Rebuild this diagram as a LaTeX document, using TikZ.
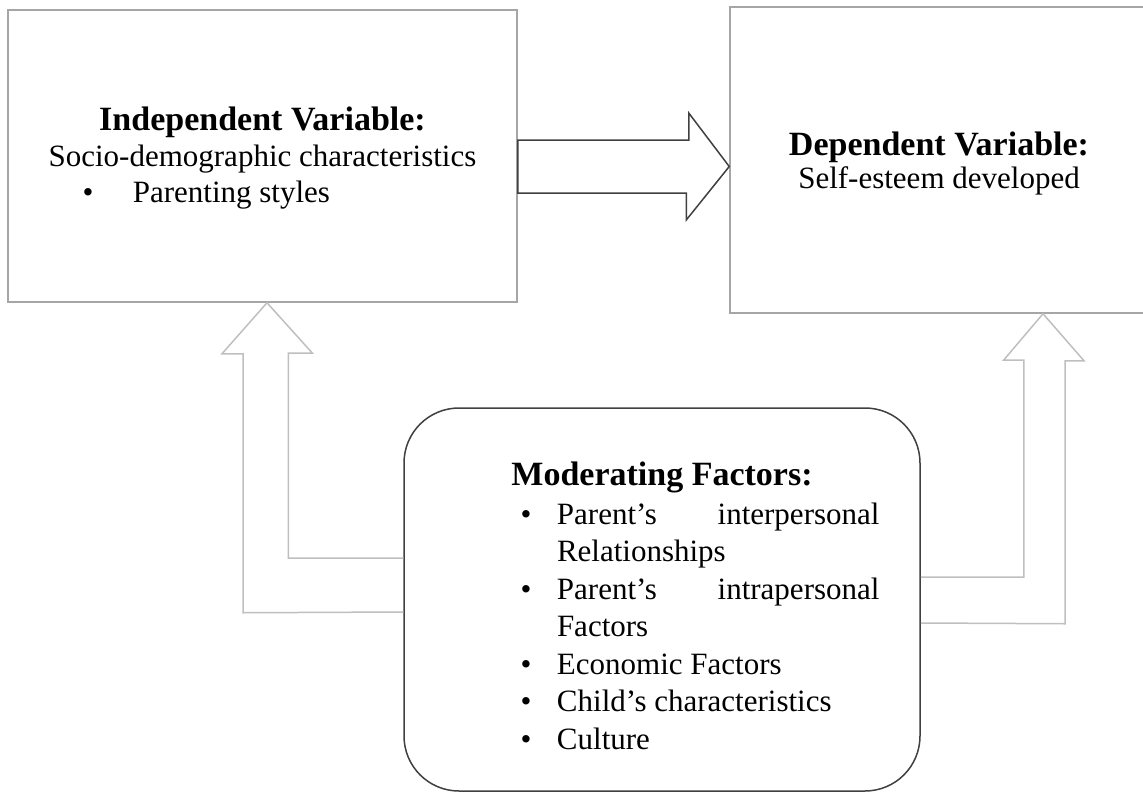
\documentclass[tikz,border=0pt]{standalone}
\usepackage{fontspec}
\setmainfont{Liberation Serif}
\usetikzlibrary{positioning,calc}

\definecolor{boxgray}{HTML}{A6A6A6}
\definecolor{liftgray}{HTML}{BFBFBF}
\definecolor{darkline}{HTML}{404040}

% one bullet line in the moderating box
\newcommand{\moditem}{\par\noindent\hangindent=36.5pt\hangafter=1%
  \makebox[36.5pt][l]{\textbullet}}

\begin{document}
\begin{tikzpicture}[
    x=1pt, y=-1pt,
    varbox/.style={
        rectangle, draw=boxgray, line width=1.5pt,
        align=center, font=\fontsize{31}{36}\selectfont
    },
    modbox/.style={
        rectangle, draw=darkline, line width=1.5pt, rounded corners=55pt,
        minimum width=516pt, minimum height=383pt, align=center,
        font=\fontsize{31}{37.5}\selectfont
    },
    fatarrow/.style={draw=darkline, line width=1.5pt, fill=white},
    liftarrow/.style={draw=liftgray, line width=1.5pt}
]
\useasboundingbox (0,0) rectangle (1143,792);

\node[varbox, minimum width=509pt, minimum height=292pt] (indep) at (262.5,156)
    {{\fontsize{34}{36}\selectfont\bfseries\rule{0pt}{27pt}Independent Variable:}\\
     Socio-demographic characteristics\\
     \makebox[427pt][l]{\hspace*{33.5pt}\textbullet\hspace{39.5pt}Parenting styles}};
\node[varbox, minimum width=418pt, minimum height=306pt,
      font=\fontsize{31}{33}\selectfont] (dep) at (939,160)
    {{\fontsize{34}{33}\selectfont\bfseries\rule{0pt}{30pt}Dependent Variable:}\\
     Self-esteem developed};

\node[modbox] (mod) at (662,599.5)
    {{\fontsize{34}{37.5}\selectfont\bfseries\rule{0pt}{36pt}Moderating Factors:}\\[1.5pt]
     \hspace*{76pt}\begin{minipage}[t]{359pt}
       \fontsize{31}{37.5}\selectfont
       \moditem Parent's\hfill interpersonal\newline Relationships
       \moditem Parent's\hfill intrapersonal\newline Factors
       \moditem Economic Factors
       \moditem Child's characteristics
       \moditem Culture
     \end{minipage}};

% arrows from the moderating box
\draw[liftarrow] ([yshift=41.5pt]mod.west) -- ++(-115,0) -- ++(0,-205) -- ++(24,0)
    -- ([xshift=4.5pt]indep.south) -- ++(-45,51) -- ++(21,0) -- ++(0,259)
    -- ([yshift=-12.5pt]mod.west);
\draw[liftarrow] ([yshift=22.5pt]mod.east) -- ++(103,0) -- ++(0,-217) -- ++(-20,0)
    -- ([xshift=104pt]dep.south) -- ++(41,47) -- ++(-19,0) -- ++(0,263)
    -- ([yshift=-23.5pt]mod.east);

\draw[fatarrow] ([yshift=16pt]indep.east) -- ++(171,0) -- ++(0,-27)
    -- ([yshift=-6.5pt]dep.west) -- ++(-43,53.5) -- ++(0,-27)
    -- ([yshift=-37pt]indep.east) -- cycle;
\end{tikzpicture}
\end{document}
